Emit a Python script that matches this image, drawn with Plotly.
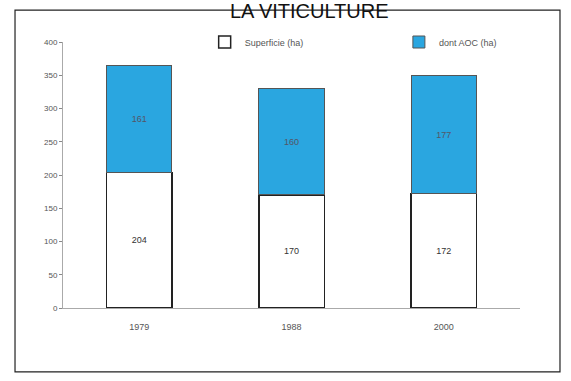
import plotly.graph_objects as go

years = ["1979", "1988", "2000"]
superficie = [204, 170, 172]
aoc = [161, 160, 177]
y_ticks = [0, 50, 100, 150, 200, 250, 300, 350, 400]

fig = go.Figure()
fig.add_trace(go.Bar(
    x=years, y=superficie, name="Superficie (ha)", legend="legend",
    marker=dict(color="white", line=dict(color="#222", width=1.5)),
    text=[str(v) for v in superficie], textposition="inside",
    insidetextanchor="middle",
    textfont=dict(size=9, color="#333", family="Arial"),
))
fig.add_trace(go.Bar(
    x=years, y=aoc, name="dont AOC (ha)", legend="legend2",
    marker=dict(color="#2aa6e0", line=dict(color="#555", width=1)),
    text=[str(v) for v in aoc], textposition="inside",
    insidetextanchor="middle",
    textfont=dict(size=9, color="#556", family="Arial"),
))

leg_common = dict(orientation="h", yanchor="middle", xanchor="left",
                  font=dict(size=9, color="#555", family="Arial"),
                  bgcolor="rgba(0,0,0,0)", itemwidth=30)
fig.update_layout(
    barmode="stack",
    bargap=0.57,
    width=571, height=381,
    margin=dict(l=63, r=51, t=42, b=73),
    paper_bgcolor="white", plot_bgcolor="white",
    showlegend=True,
    legend=dict(x=0.31, y=1.0, **leg_common),
    legend2=dict(x=0.735, y=1.0, **leg_common),
    font=dict(family="Arial", color="#444"),
)
fig.update_xaxes(
    type="category", showgrid=False, showline=True, linecolor="#aaa", linewidth=1,
    ticks="", ticklabelstandoff=10, tickfont=dict(size=9, color="#555"),
)
fig.update_yaxes(
    range=[0, 400], tickvals=y_ticks, showgrid=False, showline=True,
    linecolor="#aaa", linewidth=1, ticks="outside", ticklen=3, tickcolor="#888",
    tickfont=dict(size=8, color="#555"), zeroline=False,
)
fig.add_annotation(
    text="LA VITICULTURE", xref="paper", yref="paper", x=0.54, y=1.0,
    xanchor="center", yanchor="middle", yshift=31, showarrow=False,
    font=dict(size=20, color="#111", family="Arial"),
)
fig.add_shape(
    type="rect", xref="paper", yref="paper",
    x0=-0.105, x1=1.0875, y0=-0.24, y1=1.12,
    line=dict(color="#222", width=1.2), fillcolor="rgba(0,0,0,0)", layer="below",
)
fig.write_html("out.html")
